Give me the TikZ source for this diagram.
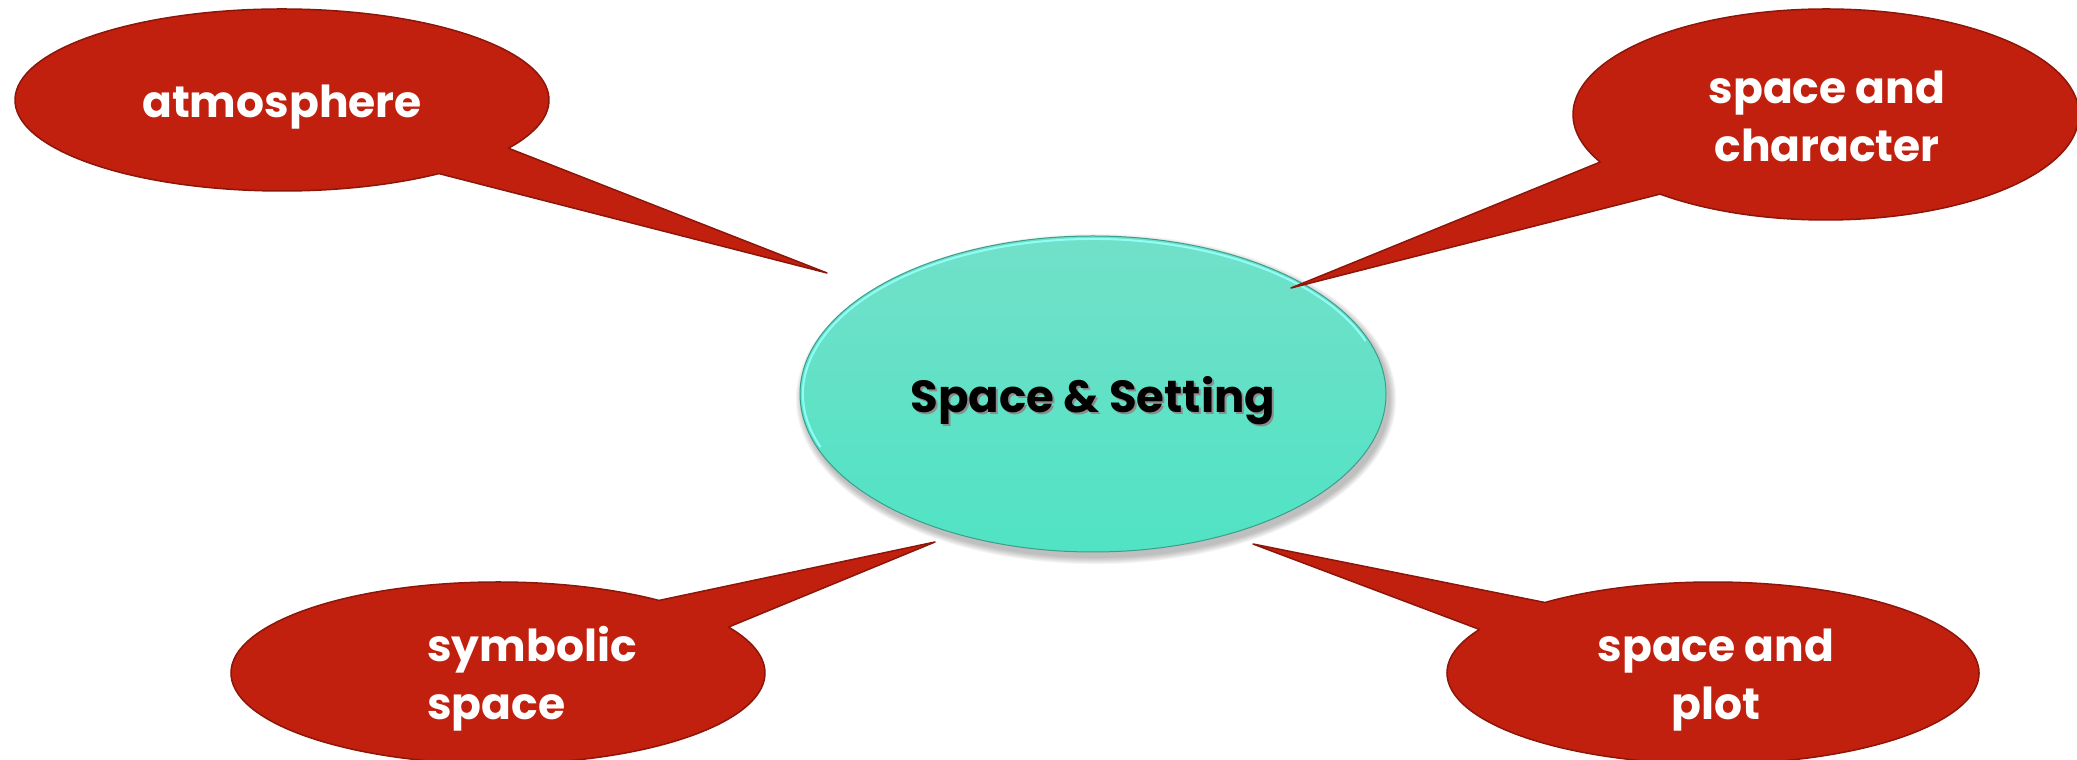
\documentclass[tikz,border=0pt]{standalone}
\usepackage{fontspec}
\setmainfont{Poppins}
\usetikzlibrary{calc,shapes.geometric}
\definecolor{bubblered}{HTML}{C1200E}
\definecolor{bubbleline}{HTML}{8C160A}
\definecolor{centertop}{HTML}{72E0C9}
\definecolor{centerbot}{HTML}{50E3C4}
\definecolor{centerrim}{HTML}{3A9F89}
\definecolor{centerhi}{HTML}{8FFFF8}
\begin{document}
\begin{tikzpicture}[x=1pt,y=1pt,
  bubble/.style={fill=bubblered, draw=bubbleline, line width=1.5pt, line join=round},
  bubbletext/.style={text=white, font=\fontsize{44}{58}\selectfont\bfseries, inner sep=0pt},
  centertext/.style={font=\fontsize{45}{58}\selectfont\bfseries, inner sep=0pt}]
\useasboundingbox (0,0) rectangle (2077,760);
% central ellipse with soft shadow
\foreach \i in {1,...,8}
  \fill[black, opacity=0.035] (1096,361) ellipse [x radius=293+\i*0.9, y radius=158+\i*0.9];
\node[ellipse, minimum width=586pt, minimum height=316pt, inner sep=0pt,
      top color=centertop, bottom color=centerbot, draw=centerrim, line width=1pt] (set) at (1093,366) {};
\draw[centerhi, line width=2pt] ($(set.center)+(20:290pt and 155pt)$)
   arc[start angle=20, end angle=200, x radius=290pt, y radius=155pt];
\node[centertext, text=black!45, anchor=base] (setshadow) at ($(set.center)+(2,-21)$) {Space \& Setting};
\node[centertext, text=black, anchor=base] (settext) at ($(set.center)+(0,-19)$) {Space \& Setting};
% bubbles
\coordinate (atmC) at (282,660);
\coordinate (atmTip) at (827,487);
\draw[bubble] (atmC) ++(-54:267pt and 91pt)
   arc[start angle=-54, end angle=-392, x radius=267pt, y radius=91pt] -- (atmTip) -- cycle;
\coordinate (chrC) at (1826,645.5);
\coordinate (chrTip) at (1291,472);
\draw[bubble] (chrC) ++(229:253pt and 105.5pt)
   arc[start angle=229, end angle=566.8, x radius=253pt, y radius=105.5pt] -- (chrTip) -- cycle;
\coordinate (symC) at (498,87);
\coordinate (symTip) at (935,218);
\draw[bubble] (symC) ++(52.9:267pt and 91pt)
   arc[start angle=52.9, end angle=390.3, x radius=267pt, y radius=91pt] -- (symTip) -- cycle;
\coordinate (pltC) at (1713,87);
\coordinate (pltTip) at (1253,216);
\draw[bubble] (pltC) ++(151.4:266pt and 91pt)
   arc[start angle=151.4, end angle=489.2, x radius=266pt, y radius=91pt] -- (pltTip) -- cycle;
% texts (anchor=base of a multi-line node is the last line's baseline)
\node[bubbletext, anchor=base] (atmT) at (282,642) {atmosphere};
\node[bubbletext, align=center, anchor=base] (chrT) at (1827,598) {space and\\character};
\node[bubbletext, align=left, anchor=base west] (symT) at (427,40) {symbolic\\space};
\node[bubbletext, align=center, anchor=base] (pltT) at (1716,40) {space and\\plot};
\end{tikzpicture}
\end{document}
